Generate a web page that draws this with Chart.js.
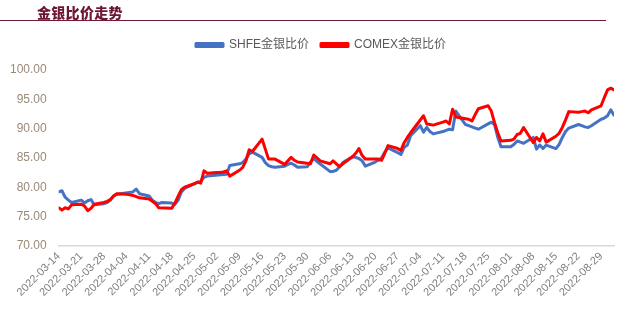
<!DOCTYPE html>
<html>
<head>
<meta charset="utf-8">
<script src="https://cdn.jsdelivr.net/npm/chart.js@4.4.1/dist/chart.umd.min.js"></script>
<style>
  html, body { margin: 0; padding: 0; background: #fff; }
  #wrap { position: relative; width: 628px; height: 311px; }
  #title { position: absolute; left: 37px; top: 2px; font: 900 14px "Noto Sans CJK SC", sans-serif; color: #6e1434; letter-spacing: 0.3px; }
  #rule { position: absolute; left: 0; top: 20px; width: 606px; border-top: 1.5px solid #6d1a36; }
  canvas { position: absolute; left: 0; top: 0; }
</style>
</head>
<body>
<div id="wrap">
  <canvas id="ratioChart" width="628" height="311"></canvas>
  <div id="title">金银比价走势</div>
  <div id="rule"></div>
</div>
<script>
// 交易日（周一至周五），节假日用 null
const dates = [
    '2022-03-14','2022-03-15','2022-03-16','2022-03-17','2022-03-18',
    '2022-03-21','2022-03-22','2022-03-23','2022-03-24','2022-03-25',
    '2022-03-28','2022-03-29','2022-03-30','2022-03-31','2022-04-01',
    '2022-04-04','2022-04-05','2022-04-06','2022-04-07','2022-04-08',
    '2022-04-11','2022-04-12','2022-04-13','2022-04-14','2022-04-15',
    '2022-04-18','2022-04-19','2022-04-20','2022-04-21','2022-04-22',
    '2022-04-25','2022-04-26','2022-04-27','2022-04-28','2022-04-29',
    '2022-05-02','2022-05-03','2022-05-04','2022-05-05','2022-05-06',
    '2022-05-09','2022-05-10','2022-05-11','2022-05-12','2022-05-13',
    '2022-05-16','2022-05-17','2022-05-18','2022-05-19','2022-05-20',
    '2022-05-23','2022-05-24','2022-05-25','2022-05-26','2022-05-27',
    '2022-05-30','2022-05-31','2022-06-01','2022-06-02','2022-06-03',
    '2022-06-06','2022-06-07','2022-06-08','2022-06-09','2022-06-10',
    '2022-06-13','2022-06-14','2022-06-15','2022-06-16','2022-06-17',
    '2022-06-20','2022-06-21','2022-06-22','2022-06-23','2022-06-24',
    '2022-06-27','2022-06-28','2022-06-29','2022-06-30','2022-07-01',
    '2022-07-04','2022-07-05','2022-07-06','2022-07-07','2022-07-08',
    '2022-07-11','2022-07-12','2022-07-13','2022-07-14','2022-07-15',
    '2022-07-18','2022-07-19','2022-07-20','2022-07-21','2022-07-22',
    '2022-07-25','2022-07-26','2022-07-27','2022-07-28','2022-07-29',
    '2022-08-01','2022-08-02','2022-08-03','2022-08-04','2022-08-05',
    '2022-08-08','2022-08-09','2022-08-10','2022-08-11','2022-08-12',
    '2022-08-15','2022-08-16','2022-08-17','2022-08-18','2022-08-19',
    '2022-08-22','2022-08-23','2022-08-24','2022-08-25','2022-08-26',
    '2022-08-29','2022-08-30','2022-08-31','2022-09-01','2022-09-02'
];

const shfeRatio = [
    79.2, 79.4, 78.3, 77.8, 77.4,
    77.8, 77.3, 77.7, 77.9, 77.0,
    77.2, 77.4, 77.8, 78.5, 78.8,
    null, null, 79.2, 79.7, 78.9,
    78.5, 77.8, 77.4, 77.2, 77.4,
    77.3, 77.1, 77.8, 79.2, 79.8,
    80.6, 80.8, 81.0, 81.7, 81.9,
    null, null, null, 82.2, 83.7,
    84.0, 84.2, 84.8, 85.7, 86.0,
    85.1, 84.2, 83.7, 83.5, 83.4,
    83.6, 83.9, 84.1, 83.8, 83.4,
    83.5, 84.3, 84.9, 84.4, null,
    82.7, 82.7, 82.9, 83.5, 84.2,
    85.2, 85.1, 84.9, 84.5, 83.6,
    84.3, 84.6, 85.0, 86.0, 86.7,
    85.9, 85.6, 86.8, 87.2, 88.8,
    90.5, 89.4, 90.2, 89.5, 89.1,
    89.5, 89.7, 89.9, 89.8, 93.0,
    90.7, 90.5, 90.3, 90.1, 89.9,
    90.8, 91.1, 90.7, 88.5, 86.9,
    86.9, 87.3, 87.9, 87.7, 87.5,
    88.5, 86.5, 87.2, 86.6, 87.2,
    86.6, 87.3, 88.5, 89.5, 90.1,
    90.7, 90.5, 90.3, 90.2, 90.5,
    91.6, 91.8, 92.2, 93.2, 92.3
];

const comexRatio = [
    76.5, 76.1, 76.5, 76.3, 77.0,
    77.1, 76.8, 76.0, 76.4, 77.1,
    77.4, 77.6, 77.9, 78.5, 78.9,
    78.8, 78.7, 78.6, 78.4, 78.2,
    78.0, 77.6, 77.2, 76.5, null,
    76.4, 77.3, 78.5, 79.6, 80.0,
    80.6, 80.9, 80.7, 82.8, 82.4,
    82.5, 82.5, 82.6, 82.8, 81.9,
    82.9, 83.4, 84.5, 86.4, 86.1,
    88.2, 86.5, 84.8, 84.8, 84.8,
    83.9, 84.5, 85.1, 84.6, 84.3,
    null, 84.0, 85.5, 85.0, 84.5,
    84.0, 84.5, 84.0, 83.5, 84.0,
    85.2, 85.8, 86.6, 85.4, 84.8,
    null, 84.8, 84.6, 85.8, 87.1,
    86.6, 86.3, 87.6, 88.5, 89.3,
    null, 92.2, 90.8, 90.7, 90.6,
    91.1, 91.3, 90.8, 93.3, 92.0,
    91.7, 91.6, 91.3, 92.4, 93.4,
    93.9, 93.0, 91.0, 89.3, 87.9,
    88.0, 88.2, 89.0, 89.2, 90.2,
    87.6, 88.5, 87.9, 89.1, 87.7,
    88.7, 89.2, 90.2, 91.5, 92.9,
    92.8, 92.9, 93.0, 92.7, 93.2,
    93.9, 95.3, 96.6, 96.9, 96.6
];

const seriesNames = ['SHFE金银比价', 'COMEX金银比价'];
const yTicks = { min: 70, max: 100, step: 5 };
const xTickStepDays = 7;

const DAY_MS = 24 * 3600 * 1000;
const startMs = Date.parse(dates[0] + 'T00:00:00Z');
const dayOffset = d => Math.round((Date.parse(d + 'T00:00:00Z') - startMs) / DAY_MS);
const offsetToDate = n => new Date(startMs + n * DAY_MS).toISOString().slice(0, 10);

const toPoints = values => dates.map((d, i) => ({ x: dayOffset(d), y: values[i] }));

const FONT = '"Liberation Sans", "Noto Sans CJK SC", sans-serif';

// 图例与绘图区之间留出空隙，并整体右移一点
const legendTweak = {
    id: 'legendTweak',
    beforeInit(chart) {
        const fit = chart.legend.fit;
        chart.legend.fit = function () {
            fit.call(this);
            this.height += 9;
        };
    },
    afterLayout(chart) {
        chart.legend.left += 15;
        chart.legend.right += 15;
    }
};

new Chart(document.getElementById('ratioChart'), {
    type: 'line',
    data: {
        datasets: [
            {
                label: seriesNames[0],
                data: toPoints(shfeRatio),
                borderColor: '#4472c4',
                backgroundColor: '#4472c4',
                borderWidth: 3,
                order: 1
            },
            {
                label: seriesNames[1],
                data: toPoints(comexRatio),
                borderColor: '#ff0000',
                backgroundColor: '#ff0000',
                borderWidth: 3,
                order: 0
            }
        ]
    },
    options: {
        responsive: false,
        animation: false,
        spanGaps: true,
        elements: {
            point: { radius: 0, hoverRadius: 0 },
            line: { tension: 0, borderJoinStyle: 'round', borderCapStyle: 'round' }
        },
        // 旋转的首个日期标签会把绘图区向右推 12px，这里用负的左边距抵消
        layout: { padding: { top: 27, right: 14, left: -2, bottom: 8 } },
        scales: {
            x: {
                type: 'linear',
                min: 0,
                max: dayOffset(dates[dates.length - 1]),
                grid: { display: false, drawTicks: false },
                border: { display: true, color: '#d9d9d9', width: 1.5 },
                ticks: {
                    stepSize: xTickStepDays,
                    includeBounds: false,
                    autoSkip: false,
                    maxRotation: 45,
                    minRotation: 45,
                    padding: 4,
                    color: '#7f7f7f',
                    font: { family: FONT, size: 11 },
                    callback: v => offsetToDate(v)
                }
            },
            y: {
                min: yTicks.min,
                max: yTicks.max,
                grid: { display: false, drawTicks: false },
                border: { display: false },
                ticks: {
                    stepSize: yTicks.step,
                    padding: 12,
                    color: '#9a8a78',
                    font: { family: FONT, size: 12 },
                    callback: v => v.toFixed(2)
                }
            }
        },
        plugins: {
            legend: {
                position: 'top',
                labels: {
                    boxWidth: 27,
                    boxHeight: 3,
                    padding: 12,
                    color: '#595959',
                    font: { family: FONT, size: 12 },
                    sort: (a, b) => a.datasetIndex - b.datasetIndex
                }
            },
            tooltip: { enabled: false }
        }
    },
    plugins: [legendTweak]
});
</script>
</body>
</html>
